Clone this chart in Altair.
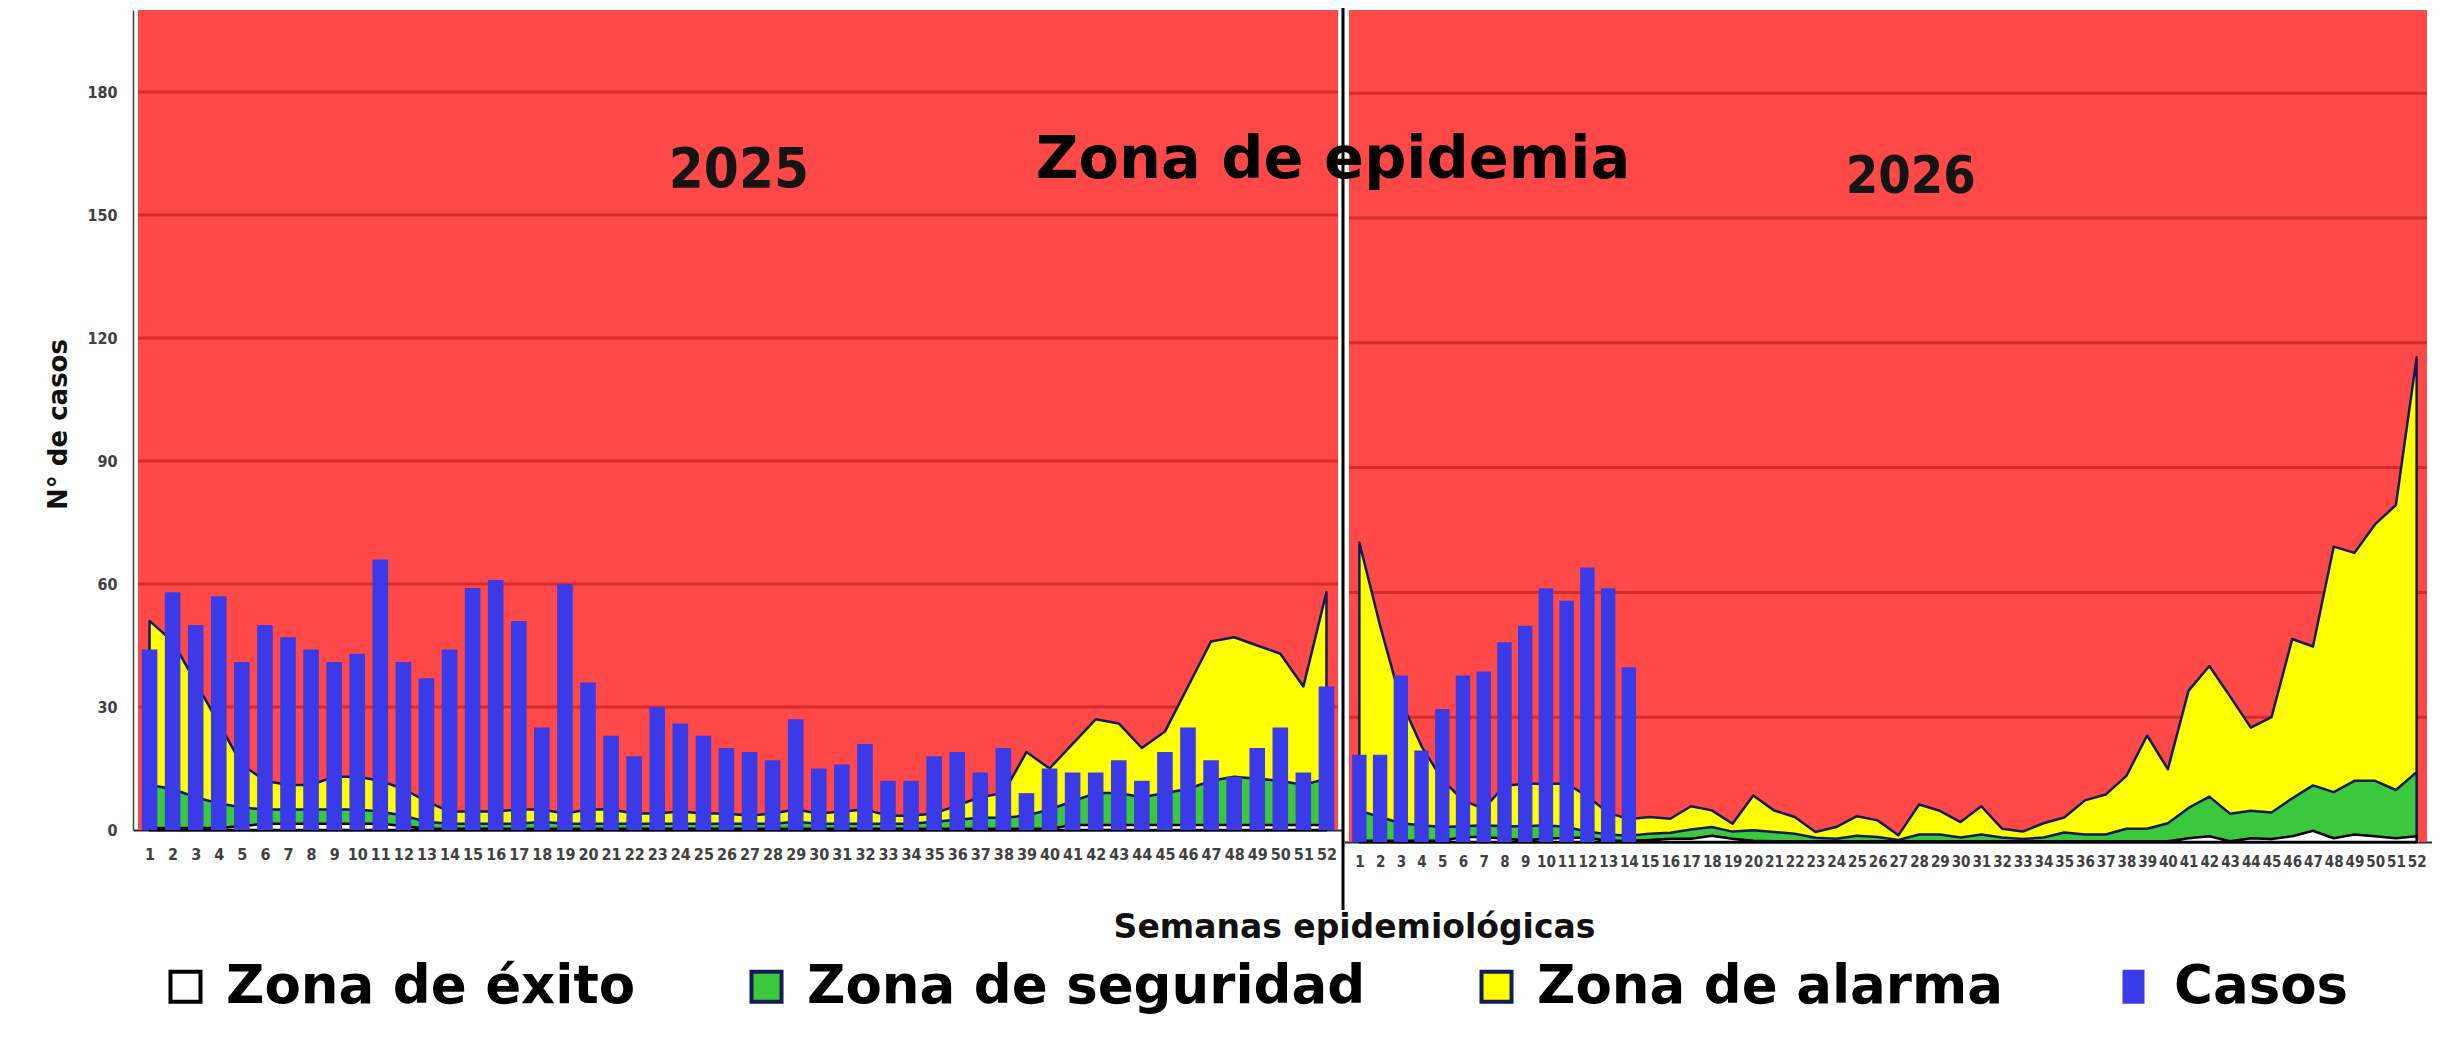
import altair as alt
import pandas as pd

# ---------------- data ----------------
semanas = list(range(1, 53))

casos_2025 = [44, 58, 50, 57, 41, 50, 47, 44, 41, 43,
              66, 41, 37, 44, 59, 61, 51, 25, 60, 36,
              23, 18, 30, 26, 23, 20, 19, 17, 27, 15,
              16, 21, 12, 12, 18, 19, 14, 20, 9, 15,
              14, 14, 17, 12, 19, 25, 17, 13, 20, 25,
              14, 35]
exito_2025 = [0.5, 0.5, 0.5, 0.5, 1, 1.5, 1.5, 1.5, 1.5, 1.5,
              1.5, 1, 0.3, 0.3, 0.3, 0.3, 0.3, 0.3, 0.3, 0.3,
              0.3, 0.3, 0.3, 0.3, 0.3, 0.3, 0.3, 0.3, 0.3, 0.3,
              0.3, 0.3, 0.3, 0.3, 0.3, 0.3, 0.3, 0.3, 0.3, 0.3,
              1.2, 1.2, 1.2, 1.2, 1.2, 1.2, 1.2, 1.2, 1.2, 1.2,
              1.2, 1.2]
seguridad_2025 = [11, 10, 8, 6.5, 5.5, 5, 5, 5, 5, 5,
                  4.5, 3.5, 2, 1.5, 1.5, 1.5, 1.5, 2, 1.5, 1.5,
                  1.5, 1.5, 1.5, 1.5, 1.5, 1.5, 1.5, 1.5, 2, 1.5,
                  1.5, 1.5, 1.5, 1.5, 2, 2.5, 3, 3, 3.5, 5,
                  7, 9, 9, 8, 9, 10, 12, 13, 12.5, 12,
                  11, 12.5]
alarma_2025 = [51, 46, 36, 26, 16, 12, 11, 11, 13, 13,
               12, 10, 7, 4.5, 4.5, 4.5, 5, 5, 4, 5,
               5, 4, 4, 4.5, 4, 4, 3.5, 4, 5, 4,
               4.5, 5, 3.5, 3.5, 4, 6, 8, 9, 19, 15,
               21, 27, 26, 20, 24, 35, 46, 47, 45, 43,
               35, 58]

semanas_casos_2026 = list(range(1, 15))
casos_2026 = [21, 21, 40, 22, 32, 40, 41, 48, 52, 61, 58, 66, 61, 42]
exito_2026 = [0.3, 0.3, 0.3, 0.3, 0.3, 1.2, 1.2, 0.8, 0.5, 0.8,
              1, 1, 0.3, 0.3, 0.5, 0.8, 0.8, 1.5, 0.8, 0.3,
              0.2, 0.2, 0.2, 0.2, 0.2, 0.2, 0.2, 0.2, 0.2, 0.2,
              0.2, 0.2, 0.2, 0.2, 0.2, 0.2, 0.2, 0.2, 0.2, 0.2,
              0.9, 1.4, 0.2, 0.9, 0.7, 1.4, 2.7, 0.9, 1.8, 1.4,
              0.9, 1.4]
seguridad_2026 = [7.5, 6, 4.5, 4, 3.6, 3.8, 4, 3.8, 3.8, 4,
                  3.6, 2.5, 1.8, 1.5, 2, 2.2, 3, 3.6, 2.5, 2.8,
                  2.4, 2, 1, 0.8, 1.5, 1.2, 0.5, 1.8, 1.8, 1.1,
                  1.8, 1.1, 0.7, 1.1, 2.3, 1.8, 1.8, 3.2, 3.2, 4.5,
                  8.2, 10.9, 6.8, 7.5, 7.1, 10.5, 13.6, 12, 14.7, 14.7,
                  12.5, 16.8]
alarma_2026 = [72, 52, 34, 23, 15, 10, 8, 13.5, 14, 14,
               14, 11, 7, 5.5, 6, 5.6, 8.6, 7.6, 4.4, 11.2,
               7.6, 6, 2.4, 3.6, 6.2, 5.2, 1.6, 9, 7.5, 4.8,
               8.6, 3.2, 2.5, 4.5, 5.9, 10, 11.4, 15.9, 25.6, 17.5,
               36.4, 42.3, 35, 27.5, 30, 48.8, 47, 71, 69.5, 76.4,
               81, 116.5]

ticks_y = [0, 30, 60, 90, 120, 150, 180]
lineas_grilla = [30, 60, 90, 120, 150, 180]
zonas = ["Zona de éxito", "Zona de seguridad", "Zona de alarma", "Casos"]
colores_zonas = ["#ffffff", "#3cc83c", "#ffff00", "#3a3ae8"]
bordes_zonas = ["#000000", "#101c55", "#101c55", "#3a3ae8"]
formas_zonas = ["square", "square", "square", "M-0.6,-1H0.6V1H-0.6Z"]
zona_epidemia = ["Zona de epidemia"]
anios = ["2025", "2026"]
titulo_x = "Semanas epidemiológicas"
titulo_y = "N° de casos"

# ---------------- styles ----------------
ROJO = "#ff4848"
GRILLA = "#d42b2b"
LINEA = "#17194d"
BOLD = "DejaVu Sans"
COND = "DejaVu Sans Condensed, DejaVu Sans"

W = 2299
H = 832

def long_zonas(df):
    rows = []
    for col, z in [("alarma", "Zona de alarma"), ("seguridad", "Zona de seguridad"), ("exito", "Zona de éxito")]:
        for s, v in zip(df["semana"], df[col]):
            rows.append({"semana": s, "zona": z, "valor": v})
    return pd.DataFrame(rows)

df25 = pd.DataFrame({"semana": semanas, "exito": exito_2025,
                     "seguridad": seguridad_2025, "alarma": alarma_2025})
df26 = pd.DataFrame({"semana": semanas, "exito": exito_2026,
                     "seguridad": seguridad_2026, "alarma": alarma_2026})
dz25 = long_zonas(df25)
dz26 = long_zonas(df26)
dc25 = pd.DataFrame({"semana": semanas, "casos": casos_2025})
dc26 = pd.DataFrame({"semana": semanas_casos_2026, "casos": casos_2026})
dfg = pd.DataFrame({"valor": lineas_grilla})
dfe = pd.DataFrame({"zona": zona_epidemia})
dfa25 = pd.DataFrame({"anio": [anios[0]]})
dfa26 = pd.DataFrame({"anio": [anios[1]]})

fill_scale = alt.Scale(domain=zonas, range=colores_zonas)
stroke_scale = alt.Scale(domain=zonas, range=bordes_zonas)
shape_scale = alt.Scale(domain=zonas, range=formas_zonas)

xs_left = alt.Scale(domain=[0.5, 52.5], range=[0, 1210], nice=False, zero=False)
xs_right = alt.Scale(domain=[0.5, 52.5], range=[1211, W], nice=False, zero=False)
ys_left = alt.Scale(domain=[0, 200], range=[820, 0], nice=False)
ys_right = alt.Scale(domain=[0, 200], range=[H, 0], nice=False)

ax_x_left = alt.Axis(values=semanas, format="d", orient="bottom", offset=-12,
                     labelFont=COND, labelFontSize=16, labelFontWeight="bold",
                     labelColor="#404040",
                     labelPadding=16, labelOverlap=False,
                     labelFlush=False, ticks=False, grid=False,
                     domainColor="#2a2a3a", domainWidth=2,
                     title=titulo_x, titleX=1221, titleY=107, titleFont=BOLD,
                     titleFontSize=33, titleFontWeight="bold", titleColor="#111111",
                     titleAlign="center", titleBaseline="alphabetic", titleAngle=0)
ax_x_right = alt.Axis(values=semanas, format="d", orient="bottom",
                      labelFont=COND, labelFontSize=15, labelFontWeight="bold",
                      labelColor="#404040",
                      labelPadding=12, labelOverlap=False,
                      labelFlush=False, ticks=False, grid=False,
                      domainColor="#2a2a3a", domainWidth=2, title=None)
ax_y_left = alt.Axis(values=ticks_y, orient="left", labelPadding=16,
                     ticks=False, grid=False, domainColor="#444444", domainWidth=1.5,
                     title=titulo_y, titleFont=BOLD, titleFontSize=26,
                     titleFontWeight="bold", titleColor="#111111",
                     titleX=-75, titleY=414, titleAngle=270,
                     titleAlign="center", titleBaseline="middle",
                     labelFont=COND, labelFontSize=16, labelFontWeight="bold",
                     labelColor="#404040")

leyenda = alt.Legend(title=None, orient="none", legendX=26, legendY=950,
                     direction="horizontal", columns=4, symbolType="square",
                     symbolSize=900, symbolStrokeWidth=4,
                     symbolOpacity=1, labelFont=BOLD, labelFontSize=53,
                     labelFontWeight="bold", labelColor="#000000", labelOffset=14,
                     columnPadding=104, labelLimit=1000, padding=0)


def grupo(dz, dc, xs, ys, ax_x, ax_y, bar_size, dfa, anio_x, anio_y, anio_size, con_forma):
    X = alt.X("semana:Q", scale=xs, axis=ax_x)
    fondo = alt.Chart(dfe).mark_rect(color=ROJO).encode(
        x=alt.XDatum(0.5, type="quantitative", scale=xs, axis=ax_x),
        x2=alt.X2Datum(52.5),
        y=alt.YDatum(0, type="quantitative", scale=ys, axis=ax_y),
        y2=alt.Y2Datum(200))
    grilla = alt.Chart(dfg).mark_rule(color=GRILLA, strokeWidth=3).encode(
        x=alt.XDatum(0.5, type="quantitative", scale=xs, axis=ax_x),
        x2=alt.X2Datum(52.5),
        y=alt.Y("valor:Q", scale=ys, axis=ax_y))
    capas = [fondo, grilla]
    for z in ["Zona de alarma", "Zona de seguridad", "Zona de éxito"]:
        capas.append(
            alt.Chart(dz).transform_filter(alt.datum.zona == z)
            .mark_area(strokeWidth=2.5, strokeJoin="round", opacity=1)
            .encode(x=X, y=alt.Y("valor:Q", scale=ys, axis=ax_y, stack=None),
                    fill=alt.Fill("zona:N", scale=fill_scale, legend=leyenda),
                    stroke=alt.Stroke("zona:N", scale=stroke_scale, legend=leyenda)))
    capas.append(
        alt.Chart(dc).transform_calculate(serie="'Casos'")
        .mark_bar(size=bar_size, opacity=1, strokeWidth=0)
        .encode(x=X, y=alt.Y("casos:Q", scale=ys, axis=ax_y),
                fill=alt.Fill("serie:N", scale=fill_scale, legend=leyenda),
                stroke=alt.Stroke("serie:N", scale=stroke_scale, legend=leyenda)))
    if con_forma:
        capas.append(
            alt.Chart(dz).mark_point(opacity=0, size=1)
            .encode(x=X, y=alt.Y("valor:Q", scale=ys, axis=ax_y),
                    shape=alt.Shape("zona:N", scale=shape_scale, legend=leyenda)))
    capas.append(
        alt.Chart(dfa).mark_text(font=COND, fontSize=anio_size, fontWeight="bold",
                                 color="#141414", align="center", baseline="alphabetic")
        .encode(x=alt.XDatum(anio_x, type="quantitative", scale=xs, axis=ax_x),
                y=alt.YDatum(anio_y, type="quantitative", scale=ys, axis=ax_y),
                text="anio:N"))
    return alt.layer(*capas)


def build(con_forma):
    izquierda = grupo(dz25, dc25, xs_left, ys_left, ax_x_left, ax_y_left, 15.6,
                      dfa25, 26.54, 156.8, 56, con_forma)
    derecha = grupo(dz26, dc26, xs_right, ys_right, ax_x_right, None, 14.4,
                    dfa26, 27.6, 156.0, 52, False)

    xs_a = alt.Scale(domain=[0.5, 52.5], range=[0, 1210], nice=False, zero=False)
    ys_a = alt.Scale(domain=[0, 200], range=[820, 0], nice=False)
    anot_texto = alt.Chart(dfe).mark_text(font=BOLD, fontSize=59, fontWeight="bold",
                                          color="#000000", align="center",
                                          baseline="alphabetic").encode(
        x=alt.XDatum(52.07, type="quantitative", scale=xs_a, axis=None),
        y=alt.YDatum(159, type="quantitative", scale=ys_a, axis=None),
        text="zona:N")
    separador = alt.Chart(dfe).mark_rule(color="#000000", strokeWidth=3).encode(
        x=alt.XDatum(52.5, type="quantitative", scale=xs_a, axis=None),
        y=alt.value(-2), y2=alt.value(900))
    anot = alt.layer(anot_texto, separador)

    return (alt.layer(izquierda, derecha, anot)
            .resolve_scale(x="independent", y="independent")
            .properties(width=W, height=H,
                        padding={"left": 125, "top": 2, "right": 0, "bottom": 175},
                        autosize=alt.AutoSizeParams(type="none"))
            .configure_view(stroke=None))


chart = None
for forma in [True, False]:
    try:
        c = build(forma)
        c.to_dict()
        chart = c
        break
    except Exception:
        continue

chart.save("out.html", embed_options={"renderer": "svg", "actions": False})
